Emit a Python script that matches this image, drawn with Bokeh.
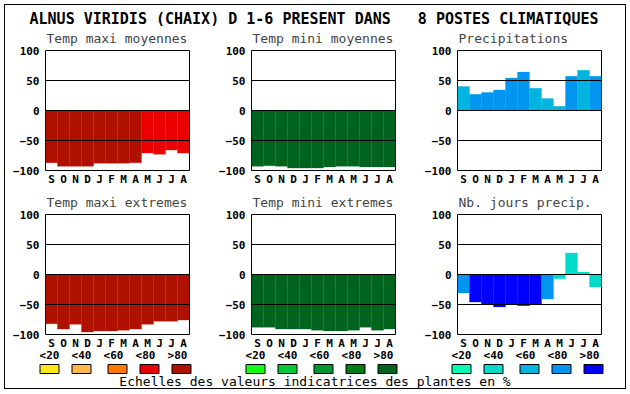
from bokeh.plotting import figure
from bokeh.layouts import column, row
from bokeh.models import Range1d, FixedTicker, ColumnDataSource
from bokeh.embed import file_html
from bokeh.resources import INLINE
from bokeh.core.properties import value

MONO = "DejaVu Sans Mono"

title_text = "ALNUS VIRIDIS (CHAIX) D 1-6 PRESENT DANS \u00a0 8 POSTES CLIMATIQUES"
months = ["S", "O", "N", "D", "J", "F", "M", "A", "M", "J", "J", "A"]
y_ticks = [-100, -50, 0, 50, 100]
class_labels = ["<20", "<40", "<60", "<80", ">80"]
footer_text = "Echelles des valeurs indicatrices des plantes en %"

warm = ["#FFE818", "#FFB850", "#FF7800", "#EA0000", "#B01000"]
green = ["#14FF14", "#00C83C", "#009632", "#007D14", "#00641E"]
blue = ["#00FFB4", "#00DCC8", "#00B4E0", "#0096F0", "#0000FF"]

tmax_moy = [-87, -93, -93, -93, -88, -88, -88, -87, -71, -73, -66, -71]
tmax_moy_cls = [4, 4, 4, 4, 4, 4, 4, 4, 3, 3, 3, 3]
tmin_moy = [-93, -92, -93, -96, -96, -96, -94, -93, -93, -94, -94, -94]
tmin_moy_cls = [4] * 12
precip = [40, 27, 30, 34, 54, 64, 37, 20, 7, 57, 67, 57]
precip_cls = [2, 3, 3, 3, 3, 3, 2, 2, 2, 3, 2, 3]
tmax_ext = [-82, -91, -83, -96, -94, -94, -93, -91, -83, -78, -78, -76]
tmax_ext_cls = [4] * 12
tmin_ext = [-88, -88, -91, -91, -91, -93, -94, -94, -93, -88, -93, -91]
tmin_ext_cls = [4] * 12
njours = [-31, -46, -49, -54, -49, -52, -49, -41, -7, 36, 4, -21]
njours_cls = [3, 4, 4, 4, 4, 4, 4, 3, 1, 1, 1, 1]

FW, FH = 144, 120


def panel(title, vals, cls, palette, width, height, left, top, bottom):
    p = figure(width=width, height=height, x_range=Range1d(0, 12),
               y_range=Range1d(-100, 100), output_backend="svg",
               toolbar_location=None, tools="",
               min_border_left=left, min_border_right=width - left - FW,
               min_border_top=top, min_border_bottom=bottom)
    x = [i + 0.5 for i in range(len(vals))]
    src = ColumnDataSource(dict(x=x, top=vals, color=[palette[c] for c in cls]))
    p.vbar(x="x", top="top", bottom=0, width=1, fill_color="color",
           line_color="color", line_width=0.3, source=src)
    p.title.text = title
    p.title.text_font = MONO
    p.title.text_font_size = "13px"
    p.title.text_font_style = "normal"
    p.title.align = "left"
    p.title.standoff = 9
    p.title.offset = 1
    p.outline_line_color = "black"
    p.outline_line_alpha = 1
    p.outline_line_width = 1
    for ax in (p.xaxis, p.yaxis):
        ax.axis_line_color = None
        ax.major_tick_line_color = None
        ax.minor_tick_line_color = None
        ax.major_tick_out = 0
        ax.major_tick_in = 0
        ax.major_label_text_font = MONO
        ax.major_label_text_font_size = "11px"
        ax.major_label_text_font_style = "bold"
        ax.major_label_text_color = "black"
    p.yaxis.ticker = FixedTicker(ticks=y_ticks)
    p.yaxis.major_label_standoff = 6
    p.xaxis.ticker = FixedTicker(ticks=x)
    p.xaxis.major_label_overrides = {xv: m for xv, m in zip(x, months)}
    p.xaxis.major_label_standoff = 2
    p.xgrid.visible = False
    p.ygrid.ticker = FixedTicker(ticks=[-50, 0, 50])
    p.ygrid.grid_line_color = "black"
    p.ygrid.grid_line_alpha = 1
    p.ygrid.level = "overlay"
    p.background_fill_color = "white"
    p.border_fill_alpha = 0
    return p


# title strip (page-pixel coordinates)
tp = figure(width=620, height=21, x_range=Range1d(5, 625), y_range=Range1d(26, 5),
            x_axis_type=None, y_axis_type=None, output_backend="svg",
            toolbar_location=None, tools="", min_border=0)
tp.outline_line_color = None
tp.grid.visible = False
tp.text(x=[313.5], y=[18], text=[title_text], text_align="center",
        text_baseline="middle", text_font=value(MONO), text_font_size="15px",
        text_font_style="bold", text_color="black")

# rows overlap the empty edges of the strip above them by 4px (transparent borders)
r1 = row(
    panel("Temp maxi moyennes", tmax_moy, tmax_moy_cls, warm, 210, 166, 40, 28, 18),
    panel("Temp mini moyennes", tmin_moy, tmin_moy_cls, green, 206, 166, 36, 28, 18),
    panel("Precipitations", precip, precip_cls, blue, 204, 166, 36, 28, 18),
    styles={"margin-top": "-4px"},
)
r2 = row(
    panel("Temp maxi extremes", tmax_ext, tmax_ext_cls, warm, 210, 168, 40, 30, 18),
    panel("Temp mini extremes", tmin_ext, tmin_ext_cls, green, 206, 168, 36, 30, 18),
    panel("Nb. jours precip.", njours, njours_cls, blue, 204, 168, 36, 30, 18),
    styles={"margin-top": "-4px"},
)

# legend strip (page-pixel coordinates), pulled up 4px over the empty bottom of row 2
lg = figure(width=620, height=40, x_range=Range1d(5, 625), y_range=Range1d(388, 348),
            x_axis_type=None, y_axis_type=None, output_backend="svg",
            toolbar_location=None, tools="", min_border=0,
            styles={"margin-top": "-4px"})
lg.outline_line_color = None
lg.grid.visible = False
lg.background_fill_alpha = 0
lg.border_fill_alpha = 0
panel_lefts = [45, 251, 457]
swatch_off = [3.5, 35.5, 71.5, 103.5, 135.5]
label_off = [4, 36, 68, 100, 132]
sx, sc, lx, lt = [], [], [], []
for pl, pal in zip(panel_lefts, [warm, green, blue]):
    for k in range(5):
        sx.append(pl + swatch_off[k] + 0.5)
        sc.append(pal[k])
        lx.append(pl + label_off[k])
        lt.append(class_labels[k])
lg.rect(x=sx, y=[368.5] * len(sx), width=19, height=9, fill_color=sc,
        line_color="black", line_width=1)
lg.text(x=lx, y=[354.5] * len(lx), text=lt, text_align="center",
        text_baseline="middle", text_font=value(MONO), text_font_size="11px",
        text_font_style="bold", text_color="black")
lg.text(x=[314.5], y=[380.5], text=[footer_text], text_align="center",
        text_baseline="middle", text_font=value(MONO), text_font_size="13px",
        text_color="black")

layout = column(tp, r1, r2, lg, styles={"border": "1px solid black",
                                         "margin-left": "4px", "margin-top": "4px"})

open("out.html", "w").write(file_html(layout, INLINE))
